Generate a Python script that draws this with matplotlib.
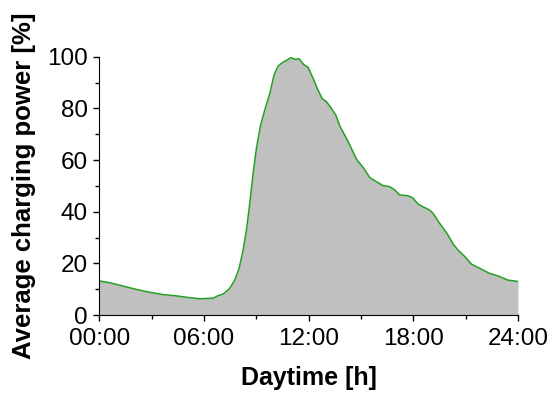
import matplotlib
matplotlib.use("Agg")
import matplotlib.pyplot as plt
from matplotlib.ticker import MultipleLocator, FuncFormatter

plt.rcParams['font.family'] = ['Liberation Sans', 'DejaVu Sans']

# daytime in hours, average charging power in percent
hours = [0.0, 0.61, 1.37, 2.14, 2.9, 3.67, 4.43, 5.19, 5.77, 6.53, 6.82, 7.1,
         7.48, 7.77, 8.02, 8.25, 8.44, 8.63, 8.82, 9.01, 9.24, 9.49, 9.78,
         10.02, 10.25, 10.54, 10.77, 10.98, 11.21, 11.46, 11.72, 11.97, 12.26,
         12.54, 12.77, 13.02, 13.31, 13.56, 13.79, 14.27, 14.74, 15.16, 15.51,
         15.89, 16.27, 16.65, 16.94, 17.22, 17.7, 17.98, 18.27, 18.56, 18.94,
         19.13, 19.51, 19.93, 20.28, 20.56, 21.0, 21.33, 21.8, 22.38, 22.86,
         23.43, 24.0]
power = [13.2, 12.5, 11.2, 9.9, 8.8, 7.9, 7.4, 6.7, 6.3, 6.5, 7.5, 8.1,
         10.3, 13.5, 18.1, 25.2, 32.9, 43.2, 54.8, 64.5, 73.2, 79.4, 85.8,
         92.9, 96.4, 97.9, 98.7, 99.7, 99.0, 99.2, 97.0, 95.9, 91.6,
         87.1, 83.9, 82.6, 80.0, 77.4, 73.2, 67.1, 60.4, 56.8, 53.2,
         51.6, 50.1, 49.7, 48.4, 46.5, 46.2, 45.3, 43.0, 41.9, 40.6,
         39.4, 35.5, 31.6, 27.5, 25.2, 22.3, 19.7, 18.1, 16.1, 15.1,
         13.5, 13.0]

fig = plt.figure(figsize=(5.54, 3.94), dpi=100)
ax = fig.add_axes([0.179, 0.2005, 0.756, 0.6555])

ax.fill_between(hours, power, 0, color='#c0c0c0', linewidth=0)
ax.plot(hours, power, color='#22a022', linewidth=1.1)

ax.set_xlim(0, 24)
ax.set_ylim(0, 100)
ax.xaxis.set_major_locator(MultipleLocator(6))
ax.xaxis.set_minor_locator(MultipleLocator(3))
ax.yaxis.set_major_locator(MultipleLocator(20))
ax.yaxis.set_minor_locator(MultipleLocator(10))
ax.xaxis.set_major_formatter(FuncFormatter(lambda v, p: '%02d:00' % int(v)))

for s in ['top', 'right']:
    ax.spines[s].set_visible(False)
ax.tick_params(which='major', length=4, width=1, labelsize=17.5)
ax.tick_params(which='minor', length=3, width=1)
ax.tick_params(axis='x', pad=5)
ax.tick_params(axis='y', pad=4)

ax.set_xlabel('Daytime [h]', fontsize=18, fontweight='bold', labelpad=12)
ax.set_ylabel('Average charging power [%]', fontsize=18.5, fontweight='bold', labelpad=8)

fig.savefig('out.png', dpi=100)
